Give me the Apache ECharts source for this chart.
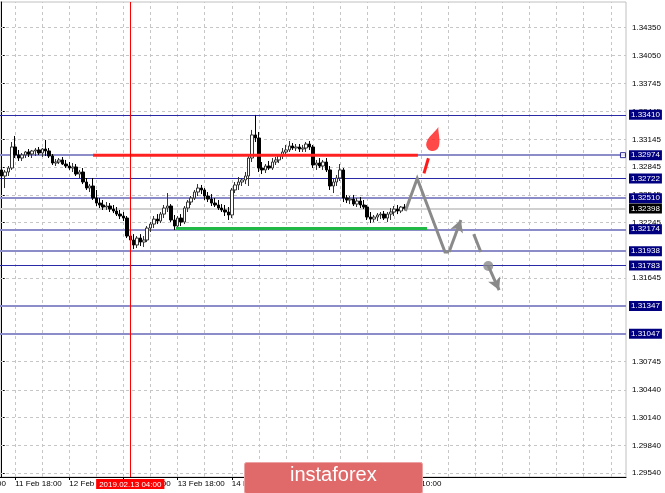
<!DOCTYPE html>
<html><head><meta charset="utf-8">
<script src="https://cdn.jsdelivr.net/npm/echarts@6/dist/echarts.min.js"></script>
<style>html,body{margin:0;padding:0;background:#fff}#c{width:665px;height:493px}</style>
</head><body><div id="c"></div>
<script>
// ---- data ----
const barCount = 185;                     // hourly slots on the axis (bars + empty future area)
const startHourUTC = Date.UTC(2019, 1, 11, 14);
const open = [1.32814,1.32749,1.32792,1.32835,1.33062,1.32976,1.32943,1.32976,1.33008,1.32986,
1.33019,1.33030,1.32997,1.33040,1.33019,1.32965,1.32889,1.32900,1.32922,1.32878,
1.32857,1.32835,1.32846,1.32770,1.32792,1.32684,1.32619,1.32641,1.32511,1.32457,
1.32436,1.32414,1.32425,1.32392,1.32371,1.32338,1.32317,1.32295,1.32101,1.32058,
1.32004,1.32079,1.32036,1.32058,1.32187,1.32230,1.32284,1.32263,1.32338,1.32403,
1.32425,1.32274,1.32209,1.32295,1.32252,1.32403,1.32468,1.32511,1.32576,1.32619,
1.32598,1.32533,1.32500,1.32457,1.32436,1.32403,1.32382,1.32360,1.32328,1.32598,
1.32652,1.32684,1.32706,1.32749,1.32943,1.33192,1.33159,1.32835,1.32814,1.32857,
1.32835,1.32900,1.32922,1.32965,1.33008,1.33030,1.33073,1.33051,1.33062,1.33040,
1.33051,1.33094,1.33062,1.32868,1.32889,1.32857,1.32900,1.32814,1.32641,1.32684,
1.32727,1.32814,1.32511,1.32490,1.32500,1.32446,1.32479,1.32436,1.32414,1.32306,
1.32284,1.32306,1.32328,1.32338,1.32295,1.32338,1.32360,1.32392,1.32371,1.32414];
const high = [1.32868,1.32814,1.32857,1.33116,1.33181,1.33030,1.32997,1.33019,1.33040,1.33030,
1.33051,1.33062,1.33051,1.33138,1.33051,1.32986,1.32932,1.32943,1.32954,1.32922,
1.32900,1.32889,1.32878,1.32814,1.32835,1.32727,1.32662,1.32727,1.32598,1.32511,
1.32490,1.32468,1.32457,1.32436,1.32414,1.32382,1.32360,1.32317,1.32144,1.32122,
1.32101,1.32122,1.32101,1.32209,1.32252,1.32317,1.32338,1.32360,1.32436,1.32565,
1.32446,1.32328,1.32317,1.32338,1.32425,1.32490,1.32533,1.32598,1.32662,1.32652,
1.32619,1.32576,1.32554,1.32511,1.32490,1.32446,1.32436,1.32414,1.32619,1.32684,
1.32738,1.32727,1.32792,1.32976,1.33246,1.33408,1.33224,1.32900,1.32878,1.32911,
1.32943,1.32954,1.32986,1.33051,1.33084,1.33127,1.33105,1.33094,1.33094,1.33084,
1.33116,1.33127,1.33084,1.32922,1.32943,1.32922,1.32943,1.32857,1.32727,1.32760,
1.32878,1.32835,1.32544,1.32533,1.32544,1.32511,1.32522,1.32490,1.32436,1.32360,
1.32328,1.32349,1.32360,1.32371,1.32360,1.32403,1.32425,1.32436,1.32425,1.32446];
const low = [1.32706,1.32619,1.32749,1.32814,1.32943,1.32911,1.32911,1.32943,1.32954,1.32943,
1.32965,1.32976,1.32954,1.32965,1.32943,1.32868,1.32857,1.32878,1.32868,1.32835,
1.32814,1.32792,1.32749,1.32727,1.32662,1.32598,1.32576,1.32490,1.32425,1.32403,
1.32382,1.32382,1.32360,1.32349,1.32317,1.32284,1.32263,1.32079,1.31993,1.31960,
1.31971,1.31993,1.31982,1.32036,1.32144,1.32187,1.32230,1.32241,1.32295,1.32360,
1.32252,1.32166,1.32166,1.32209,1.32230,1.32360,1.32436,1.32490,1.32533,1.32554,
1.32490,1.32468,1.32425,1.32414,1.32382,1.32360,1.32317,1.32274,1.32295,1.32565,
1.32598,1.32641,1.32662,1.32641,1.32900,1.33116,1.32792,1.32770,1.32781,1.32814,
1.32814,1.32868,1.32889,1.32932,1.32965,1.33008,1.33030,1.33019,1.33008,1.33008,
1.33008,1.33030,1.32835,1.32814,1.32835,1.32814,1.32792,1.32598,1.32565,1.32641,
1.32695,1.32468,1.32457,1.32446,1.32425,1.32414,1.32403,1.32392,1.32274,1.32241,
1.32252,1.32263,1.32284,1.32274,1.32252,1.32274,1.32317,1.32338,1.32349,1.32382];
const close = [1.32749,1.32792,1.32835,1.33062,1.32976,1.32943,1.32976,1.33008,1.32986,1.33019,
1.33030,1.32997,1.33040,1.33019,1.32965,1.32889,1.32900,1.32922,1.32878,1.32857,
1.32835,1.32846,1.32770,1.32792,1.32684,1.32619,1.32641,1.32511,1.32457,1.32436,
1.32414,1.32425,1.32392,1.32371,1.32338,1.32317,1.32295,1.32101,1.32058,1.32004,
1.32079,1.32036,1.32058,1.32187,1.32230,1.32284,1.32263,1.32338,1.32403,1.32425,
1.32274,1.32209,1.32295,1.32252,1.32403,1.32468,1.32511,1.32576,1.32619,1.32598,
1.32533,1.32500,1.32457,1.32436,1.32403,1.32382,1.32360,1.32328,1.32598,1.32652,
1.32684,1.32706,1.32749,1.32943,1.33192,1.33159,1.32835,1.32814,1.32857,1.32835,
1.32900,1.32922,1.32965,1.33008,1.33030,1.33073,1.33051,1.33062,1.33040,1.33051,
1.33094,1.33062,1.32868,1.32889,1.32857,1.32900,1.32814,1.32641,1.32684,1.32727,
1.32814,1.32511,1.32490,1.32500,1.32446,1.32479,1.32436,1.32414,1.32306,1.32284,
1.32306,1.32328,1.32338,1.32295,1.32338,1.32360,1.32392,1.32371,1.32414,1.32398];
const priceTicks = [1.34350,1.34050,1.33745,1.33445,1.33145,1.32845,1.32545,1.32245,1.31945,
1.31645,1.31345,1.31045,1.30745,1.30440,1.30140,1.29840,1.29540];
const navyLevels = [1.33410, 1.32722, 1.31783];
const lavenderLevels = [1.32974, 1.32510, 1.32174, 1.31938, 1.31347, 1.31047];
const bidPrice = 1.32398;
const crosshairIdx = 38;
const redLine = [[27, 1.32974], [123, 1.32974]];
const greenLine = [[51.5, 1.32182], [125.7, 1.32182]];
const projUp = [[119.3, 1.32371], [122.8, 1.32722], [131.0, 1.31929], [132.2, 1.31929]];
const projBounce = [[132.2, 1.31929], [135.7, 1.32274]];
const projDrop1 = [[139.5, 1.32122], [141.6, 1.31929]];
const projDot = [143.8, 1.31778];
const projDrop2 = [[143.8, 1.31778], [147.0, 1.31518]];
const redArrowLine = [[124.8, 1.32778], [126.1, 1.32940]];
const redArrowHead = [127.9, 1.33150];
const selectMarker = [183.6, 1.32974];

// ---- build ----
const months = ['Jan','Feb','Mar','Apr','May','Jun','Jul','Aug','Sep','Oct','Nov','Dec'];
const pad = n => (n < 10 ? '0' : '') + n;
const categories = [];
for (let i = 0; i < barCount; i++) categories.push(startHourUTC + i * 3600000);
const shortLabel = t => { const d = new Date(t); return d.getUTCDate() + ' ' + months[d.getUTCMonth()] + ' ' + pad(d.getUTCHours()) + ':00'; };
const longLabel = t => { const d = new Date(t); return d.getUTCFullYear() + '.' + pad(d.getUTCMonth() + 1) + '.' + pad(d.getUTCDate()) + ' ' + pad(d.getUTCHours()) + ':00'; };
const showTime = i => i % 16 === 4 && i < open.length;
const candles = open.map((o, i) => [o, close[i], low[i], high[i]]);
const gridXs = []; for (let i = 4; i < barCount; i += 8) gridXs.push(i);

const FONT = 'Liberation Sans';
const NAVY = '#2a2aa6', BOX = '#000080', LAV = '#8c8cc8', GRAY = '#8a8a8a';
const boxLabel = bg => ({ show: true, position: 'end', distance: 3, formatter: p => (+p.value).toFixed(5),
  backgroundColor: bg, color: '#fff', fontSize: 8, fontFamily: FONT, padding: [1, 2, 0, 2], lineHeight: 9 });
const seg = (a, b, arrow) => [{ coord: a, symbol: 'none' }, { coord: b, symbol: arrow ? 'arrow' : 'none' }];
const hline = (v, color, width) => ({ yAxis: v, lineStyle: { color: color, width: width, type: 'solid' } });

const chart = echarts.init(document.getElementById('c'), null, { renderer: 'canvas' });
chart.setOption({
  animation: false,
  backgroundColor: '#fff',
  grid: { left: 0, right: 39, top: 2, bottom: 16, show: true, borderColor: '#c0c0c0', borderWidth: 1 },
  xAxis: [{
    type: 'category', data: categories, boundaryGap: true,
    axisLine: { lineStyle: { color: '#000', width: 1 } },
    axisTick: { show: true, interval: (i) => showTime(i), alignWithLabel: true, length: 3, lineStyle: { color: '#000' } },
    axisLabel: { interval: (i) => showTime(i), formatter: v => shortLabel(+v), align: 'left', margin: 3,
      fontSize: 8, fontFamily: FONT, color: '#000' },
    splitLine: { show: false }
  }, {
    type: 'value', min: -0.5, max: barCount - 0.5, show: false
  }],
  yAxis: {
    type: 'value', position: 'right', min: 1.29500, max: 1.34627,
    axisLine: { show: true, lineStyle: { color: '#000', width: 1 } },
    axisTick: { show: true, customValues: priceTicks, length: 3, lineStyle: { color: '#000' } },
    axisLabel: { customValues: priceTicks, formatter: v => v.toFixed(5), margin: 6, fontSize: 8, fontFamily: FONT, color: '#000' },
    splitLine: { show: false }
  },
  series: [
    { type: 'line', xAxisIndex: 1, data: [], silent: true, z: 1,
      markLine: { z: 1, silent: true, symbol: 'none', animation: false, precision: 6, label: { show: false },
        lineStyle: { color: '#c6c6c6', type: [3, 3], width: 1 },
        data: priceTicks.map(v => ({ yAxis: v })).concat(gridXs.map(v => ({ xAxis: v }))) } },
    { type: 'line', xAxisIndex: 1, data: [], silent: true, z: 2,
      markLine: { z: 2, silent: true, symbol: 'none', animation: false, precision: 6,
        data: [].concat(
          lavenderLevels.map(v => Object.assign(hline(v, LAV, 2), { label: boxLabel(BOX) })),
          navyLevels.map(v => Object.assign(hline(v, NAVY, 1), { label: boxLabel(BOX) })),
          [Object.assign(hline(bidPrice, '#d0d0d0', 2), { label: boxLabel('#000') })]
        ) } },
    { type: 'candlestick', xAxisIndex: 0, data: candles, barWidth: 3, z: 3,
      itemStyle: { color: '#ffffff', color0: '#000000', borderColor: '#333333', borderColor0: '#000000', borderWidth: 1 } },
    { type: 'line', xAxisIndex: 1, data: [], silent: true, z: 5,
      markLine: { z: 5, silent: true, symbol: 'none', animation: false, precision: 6,
        data: [{ xAxis: crosshairIdx, lineStyle: { color: '#ff0000', width: 1, type: 'solid' },
          label: { show: true, position: 'start', distance: 2, formatter: () => longLabel(categories[crosshairIdx]),
            backgroundColor: '#ff0000', color: '#fff', fontSize: 8, fontFamily: FONT, padding: [1, 3, 0, 3], lineHeight: 9 } }] } },
    { type: 'line', xAxisIndex: 1, data: redLine, symbol: 'none', silent: true, z: 4, lineStyle: { color: '#ff2020', width: 3 } },
    { type: 'line', xAxisIndex: 1, data: greenLine, symbol: 'none', silent: true, z: 4, lineStyle: { color: '#22b845', width: 3 } },
    { type: 'line', xAxisIndex: 1, data: projUp, symbol: 'none', silent: true, z: 6, lineStyle: { color: GRAY, width: 3, join: 'miter' } },
    { type: 'line', xAxisIndex: 1, data: [], silent: true, z: 6,
      markLine: { z: 6, silent: true, animation: false, precision: 6, symbolSize: [10, 12], label: { show: false },
        lineStyle: { color: GRAY, width: 3, type: 'solid' },
        data: [seg(projBounce[0], projBounce[1], true), seg(projDrop1[0], projDrop1[1], false),
               seg(projDrop2[0], projDrop2[1], true)] } },
    { type: 'line', xAxisIndex: 1, data: redArrowLine, symbol: 'none', silent: true, z: 6, lineStyle: { color: '#ff1a1a', width: 3 } },
    { type: 'scatter', xAxisIndex: 1, data: [projDot], symbol: 'circle', symbolSize: 10, silent: true, z: 7,
      itemStyle: { color: GRAY } },
    { type: 'scatter', xAxisIndex: 1, data: [redArrowHead], silent: true, z: 7,
      symbol: 'path://M5,0 C6,4 10,9 10,14 A5,5 0 1,1 0,14 C0,9 4,4 5,0 Z', symbolSize: [13, 25], symbolRotate: -18,
      itemStyle: { color: '#ff1a1a' } },
    { type: 'scatter', xAxisIndex: 1, data: [selectMarker], symbol: 'rect', symbolSize: 5, silent: true, z: 7,
      itemStyle: { color: '#fff', borderColor: BOX, borderWidth: 1 } }
  ],
  graphic: [
    { type: 'text', z: 50, style: { text: shortLabel(startHourUTC - 12 * 3600000), x: 6, y: 480, align: 'right', verticalAlign: 'top',
      fill: '#000', font: '8px "' + FONT + '"' } },
    { type: 'rect', z: 100, zlevel: 1, left: 244, top: 462, shape: { x: 0, y: 0, width: 178, height: 31, r: 2 },
      style: { fill: '#e06a6a', stroke: '#eba3a3', lineWidth: 1 } },
    { type: 'text', z: 101, zlevel: 1, left: 290, top: 465, style: { text: 'instaforex', fill: '#ffffff',
      font: '20px "' + FONT + '"' } }
  ]
});
</script></body></html>
